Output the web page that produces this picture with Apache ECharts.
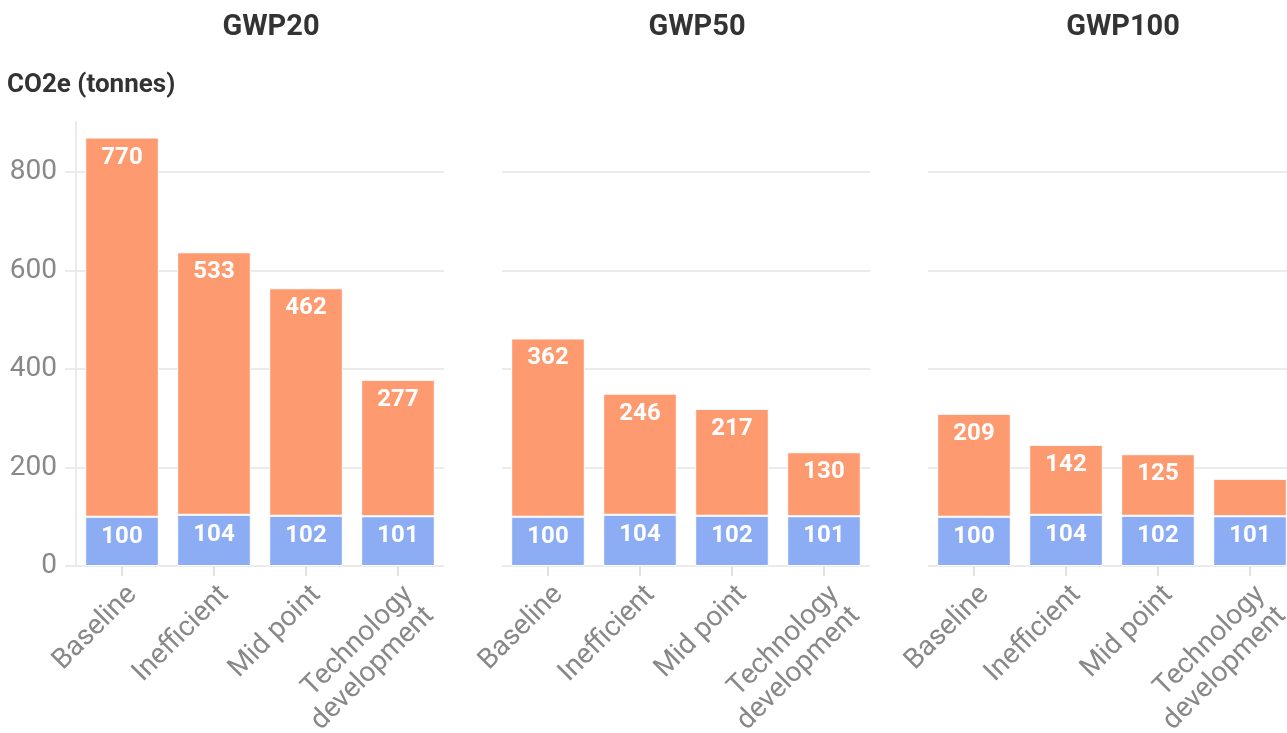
<!DOCTYPE html>
<html>
<head>
<meta charset="utf-8">
<script src="https://cdn.jsdelivr.net/npm/echarts@6/dist/echarts.min.js"></script>
<style>
  html, body { margin: 0; padding: 0; background: #fff; }
  #chart { width: 1287px; height: 733px; }
</style>
</head>
<body>
<div id="chart"></div>
<script>
const categories = ["Baseline", "Inefficient", "Mid point", "Technology\ndevelopment"];
const panels = ["GWP20", "GWP50", "GWP100"];
const yTicks = [0, 200, 400, 600, 800];
// blue (lower) part, same for every panel
const baseValues = [100, 104, 102, 101];
// orange (upper) part per panel
const gwp20Values = [770, 533, 462, 277];
const gwp50Values = [362, 246, 217, 130];
const gwp100Values = [209, 142, 125, 76];
const upperValues = [gwp20Values, gwp50Values, gwp100Values];

const blue = "#8cadf3";
const orange = "#fe9a6f";
const gridColor = "#ebebeb";
const font = "Roboto, 'Noto Sans', sans-serif";

const chart = echarts.init(document.getElementById("chart"));

const panelLeft = [76, 502, 928];
const panelWidth = 368;
const plotTop = 172;
const plotBottom = 167;

const grids = panelLeft.map(l => ({
  left: l, width: panelWidth, top: plotTop, bottom: plotBottom, outerBoundsMode: "none"
}));
// extra grid only used to draw the taller y axis line of the first panel
grids.push({ left: 76, width: panelWidth, top: 122, bottom: plotBottom, outerBoundsMode: "none" });

const xAxes = panelLeft.map((l, i) => ({
  type: "category",
  gridIndex: i,
  data: categories,
  axisLine: { show: false },
  axisTick: { show: true, alignWithLabel: true, length: 10, lineStyle: { color: "#e2e2e2", width: 2 } },
  axisLabel: {
    interval: 0, rotate: 45, fontSize: 28, color: "#888", fontFamily: font,
    margin: 14, lineHeight: 30, verticalAlign: "top", hideOverlap: false
  }
}));
xAxes.push({ type: "category", gridIndex: 3, show: false, data: categories });

const yAxes = panelLeft.map((l, i) => ({
  type: "value",
  gridIndex: i,
  min: 0,
  max: yTicks[yTicks.length - 1],
  interval: 200,
  axisLine: { show: false },
  axisTick: { show: i === 0, length: 11, lineStyle: { color: gridColor, width: 2 } },
  axisLabel: { show: i === 0, fontSize: 28, color: "#888", fontFamily: font, margin: 19 },
  splitLine: { lineStyle: { color: gridColor, width: 2 } }
}));
yAxes.push({
  type: "value", gridIndex: 3, min: 0, max: 900,
  axisLine: { show: true, lineStyle: { color: gridColor, width: 2 } },
  axisTick: { show: false }, axisLabel: { show: false }, splitLine: { show: false }
});

const labelStyle = { show: true, position: "insideTop", distance: 8, color: "#fff", fontSize: 24, fontWeight: "bold", fontFamily: font };

const series = [];
panels.forEach((p, i) => {
  series.push({
    type: "bar", name: p + " base", xAxisIndex: i, yAxisIndex: i, stack: "s" + i,
    barWidth: "80%", clip: false,
    itemStyle: { color: blue, borderColor: "#fff", borderWidth: 1 },
    label: labelStyle,
    data: baseValues
  });
  series.push({
    type: "bar", name: p, xAxisIndex: i, yAxisIndex: i, stack: "s" + i,
    barWidth: "80%", clip: false,
    itemStyle: { color: orange, borderColor: "#fff", borderWidth: 1 },
    label: labelStyle,
    // small segments get no label
    data: upperValues[i].map(v => v < 100 ? { value: v, label: { show: false } } : v)
  });
});

const titles = panels.map((p, i) => ({
  text: p,
  left: panelLeft[i] + panelWidth / 2 + 11,
  top: 13,
  padding: 0,
  textAlign: "center",
  textStyle: { fontSize: 29, fontWeight: "bold", color: "#333", fontFamily: font }
}));
titles.push({
  text: "CO2e (tonnes)",
  left: 7,
  top: 72,
  padding: 0,
  textStyle: { fontSize: 26, fontWeight: "bold", color: "#333", fontFamily: font }
});

chart.setOption({
  animation: false,
  backgroundColor: "#fff",
  title: titles,
  grid: grids,
  xAxis: xAxes,
  yAxis: yAxes,
  series: series
});
</script>
</body>
</html>
